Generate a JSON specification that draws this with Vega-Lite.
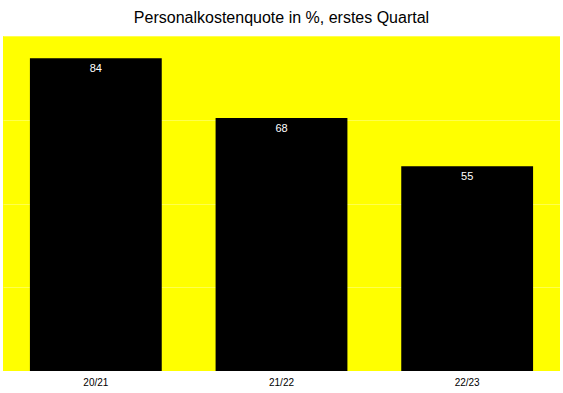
{
  "$schema": "https://vega.github.io/schema/vega-lite/v6.json",
  "width": 557,
  "height": 335,
  "autosize": {"type": "none"},
  "padding": {"left": 3, "top": 36, "right": 3, "bottom": 22},
  "background": "white",
  "title": {"text": "Personalkostenquote in %, erstes Quartal", "fontSize": 16, "font": "Liberation Sans", "fontWeight": "normal", "color": "black", "offset": 10, "anchor": "middle"},
  "config": {"view": {"fill": "#ffff00", "stroke": null}},
  "data": {"values": [
    {"Jahr": "20/21", "Wert": 84},
    {"Jahr": "21/22", "Wert": 68},
    {"Jahr": "22/23", "Wert": 55}
  ]},
  "encoding": {
    "x": {"field": "Jahr", "type": "nominal", "sort": null, "title": null,
      "scale": {"paddingInner": 0.29, "paddingOuter": 0.145},
      "axis": {"labelAngle": 0, "ticks": false, "domain": false, "labelFontSize": 10, "labelFont": "Liberation Sans", "labelColor": "black", "labelPadding": 6}},
    "y": {"field": "Wert", "type": "quantitative", "title": null,
      "scale": {"domain": [0, 90], "nice": false},
      "axis": {"values": [0, 22.5, 45, 67.5, 90], "labels": false, "ticks": false, "domain": false, "gridColor": "#ffffff", "gridOpacity": 0.3, "gridWidth": 1}}
  },
  "layer": [
    {"mark": {"type": "bar", "color": "black"}},
    {"mark": {"type": "text", "color": "white", "baseline": "top", "dy": 5, "fontSize": 11, "font": "Liberation Sans"},
     "encoding": {"text": {"field": "Wert", "type": "quantitative"}}}
  ]
}
